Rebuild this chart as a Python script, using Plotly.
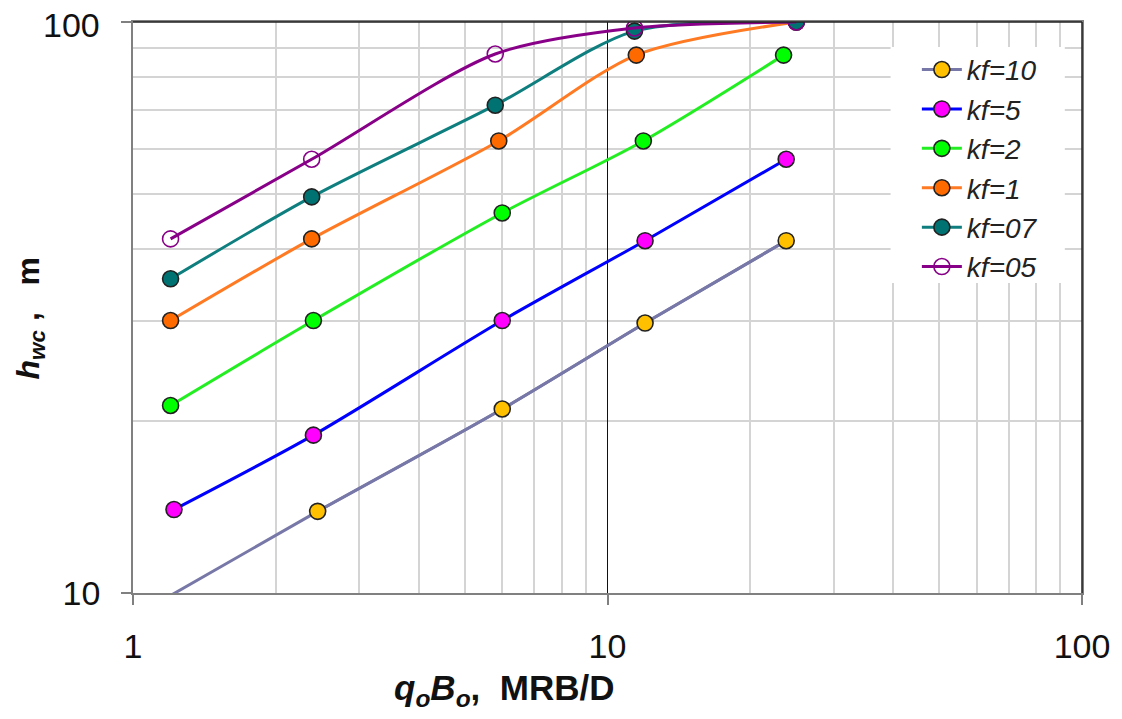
import plotly.graph_objects as go

series_names = ["kf=10", "kf=5", "kf=2", "kf=1", "kf=07", "kf=05"]
x_kf10 = [1.2, 2.45, 6.0, 12.0, 23.8]
y_kf10 = [9.9, 13.9, 21.0, 29.7, 41.4]
x_kf5 = [1.22, 2.4, 6.0, 12.0, 23.8]
y_kf5 = [14.0, 18.9, 30.0, 41.4, 57.5]
x_kf2 = [1.2, 2.4, 6.0, 11.9, 23.5]
y_kf2 = [21.3, 30.0, 46.3, 61.9, 87.5]
x_kf1 = [1.2, 2.38, 5.9, 11.5, 25.0]
y_kf1 = [30.0, 41.7, 61.9, 87.5, 100.0]
x_kf07 = [1.2, 2.38, 5.8, 11.4, 25.0]
y_kf07 = [35.5, 49.4, 71.5, 96.4, 100.0]
x_kf05 = [1.2, 2.38, 5.8, 11.4, 25.0]
y_kf05 = [41.7, 57.5, 87.9, 97.6, 100.0]

y_min, y_max = 10, 100
line_colors = ["#7878a8", "#0000ff", "#22ee22", "#ff7a22", "#0e7e7e", "#880088"]
marker_colors = ["#ffc000", "#ff00ff", "#00ff00", "#ff6a00", "#007272", "rgba(255,255,255,0)"]
marker_lines = ["#222222", "#222222", "#222222", "#222222", "#222222", "#880088"]

xs = [x_kf10, x_kf5, x_kf2, x_kf1, x_kf07, x_kf05]
ys = [y_kf10, y_kf5, y_kf2, y_kf1, y_kf07, y_kf05]

FONT = "Arial, Liberation Sans, sans-serif"

fig = go.Figure()
for name, x, y, lc, mc, ml in zip(series_names, xs, ys, line_colors, marker_colors, marker_lines):
    inside = [y_min <= v <= y_max for v in y]
    line_style = dict(color=lc, width=3, shape="spline", smoothing=0.8)
    if not all(inside):
        # full line (its out-of-range part is clipped by the axes, no marker there)
        fig.add_trace(go.Scatter(x=x, y=y, mode="lines", line=line_style,
                                 showlegend=False, legendgroup=name, hoverinfo="skip"))
    xi = [a for a, k in zip(x, inside) if k]
    yi = [b for b, k in zip(y, inside) if k]
    fig.add_trace(go.Scatter(
        x=xi, y=yi, name=name, mode="lines+markers", legendgroup=name,
        line=line_style,
        marker=dict(size=16, color=mc, opacity=1, line=dict(color=ml, width=1.6)),
    ))

minor_x = [2, 3, 4, 5, 6, 7, 8, 9, 20, 30, 40, 50, 60, 70, 80, 90]
minor_y = [20, 30, 40, 50, 60, 70, 80, 90]

fig.update_layout(
    width=1114, height=711,
    margin=dict(l=125, r=37, t=14, b=126),
    paper_bgcolor="white", plot_bgcolor="white",
    font=dict(family=FONT, color="#111111"),
    showlegend=True,
    legend=dict(
        x=0.826, y=0.96, xanchor="left", yanchor="top",
        bgcolor="rgba(255,255,255,0)", borderwidth=0,
        font=dict(family=FONT, size=28, style="italic", color="#222222"),
        itemwidth=40, tracegroupgap=0,
    ),
    xaxis=dict(
        type="log", range=[0, 2],
        tickvals=[1, 10, 100], ticktext=["1", "10", "100"],
        tickfont=dict(size=34, family=FONT),
        showgrid=True, gridcolor="#111111", gridwidth=1.3,
        minor=dict(tickvals=minor_x, showgrid=True, gridcolor="#d4d4d4", gridwidth=2, ticks=""),
        showline=True, linecolor="#808080", linewidth=1.5, mirror=True,
        ticks="outside", ticklen=10, tickcolor="#808080", tickwidth=1.5,
        ticklabelstandoff=12, zeroline=False,
    ),
    yaxis=dict(
        type="log", range=[1, 2],
        tickvals=[y_min, y_max], ticktext=["10", ""],
        tickfont=dict(size=34, family=FONT),
        showgrid=True, gridcolor="#d4d4d4", gridwidth=2,
        minor=dict(tickvals=minor_y, showgrid=True, gridcolor="#d4d4d4", gridwidth=2, ticks=""),
        showline=True, linecolor="#808080", linewidth=1.5, mirror=True,
        ticks="outside", ticklen=10, tickcolor="#808080", tickwidth=1.5,
        ticklabelstandoff=14, zeroline=False,
    ),
    shapes=[
        dict(type="rect", xref="x", yref="y", x0=39.5, x1=92.0, y0=34.9, y1=90.4,
             fillcolor="white", line=dict(width=0), layer="between"),
        dict(type="line", xref="paper", yref="paper", x0=0, x1=1, y0=1, y1=1,
             line=dict(color="#222222", width=1.5)),
        dict(type="line", xref="paper", yref="paper", x0=1, x1=1, y0=0, y1=1,
             line=dict(color="#222222", width=1.5)),
    ],
    annotations=[
        dict(text="100", xref="paper", yref="paper", x=-0.033, y=0.995,
             xanchor="right", yanchor="middle", showarrow=False,
             font=dict(size=34, family=FONT, color="#111111")),
        dict(text="<b><i>q<sub>o</sub>B<sub>o</sub></i>,  MRB/D</b>",
             xref="paper", yref="paper", x=0.391, y=-0.17, xanchor="center", yanchor="middle",
             showarrow=False, font=dict(size=35, family=FONT, color="#111111")),
        dict(text="<b><i>h<sub>wc</sub></i> ,   m</b>",
             xref="paper", yref="paper", x=-0.108, y=0.48, xanchor="center", yanchor="middle",
             textangle=-90, showarrow=False, font=dict(size=32, family=FONT, color="#111111")),
    ],
)

fig.write_html("out.html")
